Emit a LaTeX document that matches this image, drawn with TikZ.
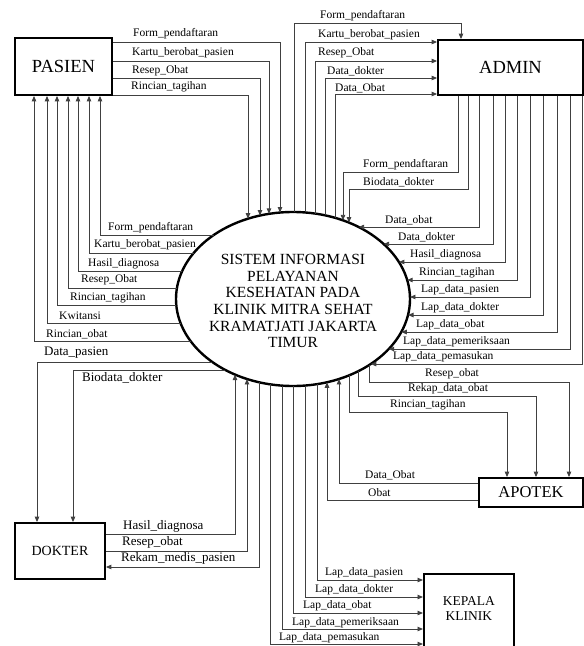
\documentclass[tikz,border=0pt]{standalone}
\usepackage{fontspec}
\setmainfont{Liberation Serif}
\usetikzlibrary{arrows.meta,shapes.geometric}
\newcommand\elTop[2]{\coordinate (#1) at (#2,{299-87*sqrt(1-(#2-293)*(#2-293)/13689)});}
\newcommand\elBot[2]{\coordinate (#1) at (#2,{299+87*sqrt(1-(#2-293)*(#2-293)/13689)});}
\newcommand\elLeft[2]{\coordinate (#1) at ({293-117*sqrt(1-(#2-299)*(#2-299)/7569)},#2);}
\newcommand\elRight[2]{\coordinate (#1) at ({293+117*sqrt(1-(#2-299)*(#2-299)/7569)},#2);}
\tikzset{
  flow/.style={draw=black!75, line width=0.9pt, -{Triangle[length=5.5pt,width=4.5pt]}},
  lbl/.style={font=\fontsize{11.5}{12}\selectfont, inner sep=0pt, anchor=west},
  lblb/.style={lbl, font=\fontsize{13}{14}\selectfont},
  ent/.style={draw, line width=1.8pt, inner sep=0pt, align=center},
}
\begin{document}
\begin{tikzpicture}[x=1pt,y=-1pt]
\useasboundingbox (0,0) rectangle (584,646);
% entities
\node[ent, minimum width=97, minimum height=57, font=\fontsize{18.5}{20}\selectfont] (pasien) at (63.5,66.5) {PASIEN};
\node[ent, minimum width=145, minimum height=55, font=\fontsize{18.5}{20}\selectfont] (admin) at (510.5,67.5) {ADMIN};
\node[ent, minimum width=90, minimum height=56, font=\fontsize{14}{15}\selectfont] (dokter) at (60,551) {DOKTER};
\node[ent, minimum width=104, minimum height=29, font=\fontsize{16.5}{18}\selectfont] (apotek) at (531,492.5) {APOTEK};
\node[ent, anchor=north west, minimum width=90, inner ysep=23pt, font=\fontsize{13.5}{14.5}\selectfont] (kepala) at (423,573) {KEPALA\\KLINIK\\[40pt]\mbox{}};
% process
\node[draw, ellipse, line width=2.4pt, minimum width=234, minimum height=174, inner sep=0pt] (sys) at (293,299) {};
\node[align=center, inner sep=0pt, font=\fontsize{15.5}{16.7}\selectfont] (systxt) at (293,301) {SISTEM INFORMASI\\PELAYANAN\\KESEHATAN PADA\\KLINIK MITRA SEHAT\\KRAMATJATI JAKARTA\\TIMUR};

% PASIEN -> SYS
\elTop{pt1}{280} \elTop{pt2}{269} \elTop{pt3}{260} \elTop{pt4}{248}
\draw[flow] (pasien.east |- 0,42) -| (pt1);
\draw[flow] (pasien.east |- 0,61) -| (pt2);
\draw[flow] (pasien.east |- 0,78) -| (pt3);
\draw[flow] (pasien.east |- 0,95) -| (pt4);
\node[lbl] (la1) at (133,34) {Form\_pendaftaran};
\node[lbl] (la2) at (132,53) {Kartu\_berobat\_pasien};
\node[lbl] (la3) at (132,71) {Resep\_Obat};
\node[lbl] (la4) at (131,87) {Rincian\_tagihan};

% SYS -> ADMIN
\elTop{at1}{294} \elTop{at2}{305} \elTop{at3}{315} \elTop{at4}{325} \elTop{at5}{335}
\draw[flow] (at1) |- (461,23) -- (admin.north -| 461,0);
\draw[flow] (at2) |- (admin.west |- 0,42);
\draw[flow] (at3) |- (admin.west |- 0,61);
\draw[flow] (at4) |- (admin.west |- 0,78);
\draw[flow] (at5) |- (admin.west |- 0,94);
\node[lbl] (lb1) at (320,16) {Form\_pendaftaran};
\node[lbl] (lb2) at (318,35) {Kartu\_berobat\_pasien};
\node[lbl] (lb3) at (318,53) {Resep\_Obat};
\node[lbl] (lb4) at (327,71) {Data\_dokter};
\node[lbl] (lb5) at (335,88) {Data\_Obat};

% ADMIN -> SYS
\elTop{ad1}{343} \elTop{ad2}{349}
\draw[flow] (admin.south -| 458,0) |- (343,172) -- (ad1);
\draw[flow] (admin.south -| 468,0) |- (349,189) -- (ad2);
\node[lbl] (lc1) at (363,165) {Form\_pendaftaran};
\node[lbl] (lc2) at (363,182) {Biodata\_dokter};
\elRight{ar1}{227} \elRight{ar2}{244} \elRight{ar3}{262} \elRight{ar4}{280} \elRight{ar5}{297}
\elRight{ar6}{315} \elRight{ar7}{332} \elRight{ar8}{349} \elRight{ar9}{364}
\draw[flow] (admin.south -| 479,0) |- (ar1);
\draw[flow] (admin.south -| 493,0) |- (ar2);
\draw[flow] (admin.south -| 505,0) |- (ar3);
\draw[flow] (admin.south -| 517,0) |- (ar4);
\draw[flow] (admin.south -| 530,0) |- (ar5);
\draw[flow] (admin.south -| 543,0) |- (ar6);
\draw[flow] (admin.south -| 557,0) |- (ar7);
\draw[flow] (admin.south -| 570,0) |- (ar8);
\draw[flow] (admin.south -| 582,0) |- (ar9);
\node[lbl] (ld1) at (385,220) {Data\_obat};
\node[lbl] (ld2) at (398,237) {Data\_dokter};
\node[lbl] (ld3) at (410,255) {Hasil\_diagnosa};
\node[lbl] (ld4) at (419,273) {Rincian\_tagihan};
\node[lbl] (ld5) at (421,290) {Lap\_data\_pasien};
\node[lbl] (ld6) at (421,308) {Lap\_data\_dokter};
\node[lbl] (ld7) at (416,325) {Lap\_data\_obat};
\node[lbl] (ld8) at (403,342) {Lap\_data\_pemeriksaan};
\node[lbl] (ld9) at (393,357) {Lap\_data\_pemasukan};

% SYS -> PASIEN
\elLeft{pl1}{235} \elLeft{pl2}{253} \elLeft{pl3}{271} \elLeft{pl4}{288}
\elLeft{pl5}{305} \elLeft{pl6}{323} \elLeft{pl7}{341}
\draw[flow] (pl1) -| (pasien.south -| 100,0);
\draw[flow] (pl2) -| (pasien.south -| 89,0);
\draw[flow] (pl3) -| (pasien.south -| 78,0);
\draw[flow] (pl4) -| (pasien.south -| 68,0);
\draw[flow] (pl5) -| (pasien.south -| 57,0);
\draw[flow] (pl6) -| (pasien.south -| 47,0);
\draw[flow] (pl7) -| (pasien.south -| 34,0);
\node[lbl] (le1) at (108,228) {Form\_pendaftaran};
\node[lbl] (le2) at (94,245) {Kartu\_berobat\_pasien};
\node[lbl] (le3) at (88,264) {Hasil\_diagnosa};
\node[lbl] (le4) at (81,280) {Resep\_Obat};
\node[lbl] (le5) at (70,298) {Rincian\_tagihan};
\node[lbl] (le6) at (59,316) {Kwitansi};
\node[lbl] (le7) at (46,334) {Rincian\_obat};

% SYS -> DOKTER
\elLeft{dl1}{362} \elLeft{dl2}{370}
\draw[flow] (dl1) -| (dokter.north -| 37,0);
\draw[flow] (dl2) -| (dokter.north -| 73,0);
\node[lblb] (lf1) at (44,353) {Data\_pasien};
\node[lblb] (lf2) at (82,378) {Biodata\_dokter};

% DOKTER <-> SYS
\elBot{db1}{235} \elBot{db2}{247} \elBot{db3}{259}
\draw[flow] (dokter.east |- 0,534) -| (db1);
\draw[flow] (dokter.east |- 0,551) -| (db2);
\draw[flow] (db3) |- (dokter.east |- 0,567);
\node[lblb] (lg1) at (123,526) {Hasil\_diagnosa};
\node[lblb] (lg2) at (122,542) {Resep\_obat};
\node[lblb] (lg3) at (121,558) {Rekam\_medis\_pasien};

% SYS -> KEPALA KLINIK
\elBot{kb1}{317} \elBot{kb2}{305} \elBot{kb3}{293} \elBot{kb4}{282} \elBot{kb5}{270}
\draw[flow] (kb1) |- (kepala.west |- 0,580);
\draw[flow] (kb2) |- (kepala.west |- 0,597);
\draw[flow] (kb3) |- (kepala.west |- 0,613);
\draw[flow] (kb4) |- (kepala.west |- 0,629);
\draw[flow] (kb5) |- (kepala.west |- 0,644);
\node[lbl] (lh1) at (325,573) {Lap\_data\_pasien};
\node[lbl] (lh2) at (315,590) {Lap\_data\_dokter};
\node[lbl] (lh3) at (303,606) {Lap\_data\_obat};
\node[lbl] (lh4) at (292,623) {Lap\_data\_pemeriksaan};
\node[lbl] (lh5) at (279,638) {Lap\_data\_pemasukan};

% SYS <-> APOTEK
\elBot{ap1}{369} \elBot{ap2}{358} \elBot{ap3}{349} \elBot{ap4}{339} \elBot{ap5}{327}
\draw[flow] (ap1) |- (569,382) -- (apotek.north -| 569,0);
\draw[flow] (ap2) |- (536,396) -- (apotek.north -| 536,0);
\draw[flow] (ap3) |- (507,412) -- (apotek.north -| 507,0);
\draw[flow] (apotek.west |- 0,483) -| (ap4);
\draw[flow] (apotek.west |- 0,500) -| (ap5);
\node[lbl] (li1) at (425,374) {Resep\_obat};
\node[lbl] (li2) at (408,389) {Rekap\_data\_obat};
\node[lbl] (li3) at (390,405) {Rincian\_tagihan};
\node[lbl] (li4) at (365,475) {Data\_Obat};
\node[lbl] (li5) at (368,493) {Obat};
\end{tikzpicture}
\end{document}
